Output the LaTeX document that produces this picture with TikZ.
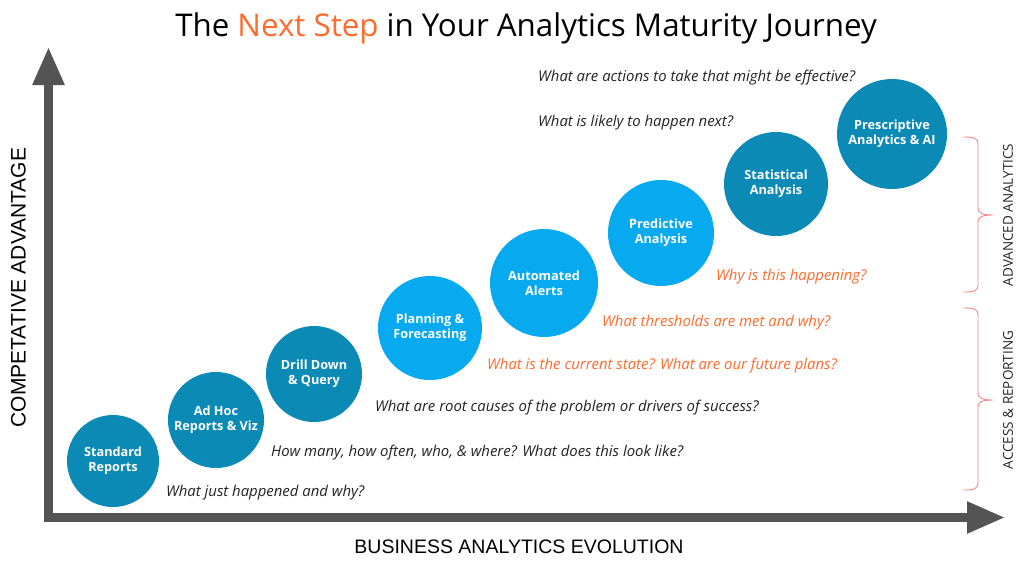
\documentclass[tikz,border=0pt]{standalone}
\usepackage{fontspec}
\setmainfont{Open Sans}
\newfontfamily\axisfont{Liberation Sans}
\usetikzlibrary{arrows.meta}
\definecolor{darkteal}{HTML}{0B8AB6}
\definecolor{lightblue}{HTML}{07A9EF}
\definecolor{orangeq}{HTML}{FF6B2C}
\definecolor{axisgray}{HTML}{545454}
\definecolor{bracecol}{HTML}{F28A87}
\definecolor{qtext}{HTML}{222222}
\tikzset{
  bubble/.style={circle, inner sep=0pt, text=white, align=center,
    font=\bfseries\fontsize{12.7}{15}\selectfont},
  darkb/.style={bubble, fill=darkteal},
  lightb/.style={bubble, fill=lightblue},
  question/.style={anchor=west, inner sep=0pt, text=qtext,
    font=\itshape\fontsize{14.9}{17}\selectfont},
  oquestion/.style={question, text=orangeq},
  axisarrow/.style={axisgray, line width=8.5pt,
    -{Triangle[length=38pt,width=30pt]}},
  bracepath/.style={bracecol, line width=0.9pt},
  sidelabel/.style={rotate=90, inner sep=0pt, text=black!85,
    font=\fontsize{13.5}{16}\selectfont},
  axislabel/.style={inner sep=0pt, text=black, font=\axisfont}
}
\begin{document}
\begin{tikzpicture}[x=1pt,y=-1pt]
\useasboundingbox (0,0) rectangle (1024,571);
\fill[white] (0,0) rectangle (1024,571);

% title
\node[inner sep=0pt] (title) at (526,28)
  {\fontsize{31.3}{36}\selectfont The \textcolor{orangeq}{Next Step} in Your Analytics Maturity Journey};

% axes
\coordinate (corner) at (48.5,521);
\coordinate (ytip) at (48.5,47);
\coordinate (xstart) at (44,517.5);
\coordinate (xtip) at (1005,517.5);
\draw[axisarrow] (corner) -- (ytip);
\draw[axisarrow] (xstart) -- (xtip);

\node[axislabel, rotate=90, font=\axisfont\fontsize{21}{24}\selectfont] (ylab) at (18.5,287.5) {COMPETATIVE ADVANTAGE};
\node[axislabel, font=\axisfont\fontsize{19.5}{22}\selectfont] (xlab) at (519,547) {BUSINESS ANALYTICS EVOLUTION};

% bubbles
\node[darkb, minimum size=92pt] (b1) at (113,461) {Standard\\Reports};
\node[darkb, minimum size=96pt] (b2) at (216,420) {Ad Hoc\\Reports \& Viz};
\node[darkb, minimum size=96pt] (b3) at (314,374) {Drill Down\\\& Query};
\node[lightb, minimum size=104pt] (b4) at (430,328) {Planning \&\\Forecasting};
\node[lightb, minimum size=108pt] (b5) at (544,283) {Automated\\Alerts};
\node[lightb, minimum size=106pt] (b6) at (661,233) {Predictive\\Analysis};
\node[darkb, minimum size=104pt] (b7) at (776,184) {Statistical\\Analysis};
\node[darkb, minimum size=110pt] (b8) at (892,134) {Prescriptive\\Analytics \& AI};

% questions
\node[question] (q1) at (166,493) {What just happened and why?};
\node[question] (q2) at (271,453) {How many, how often, who, \& where? What does this look like?};
\node[question] (q3) at (375,408) {What are root causes of the problem or drivers of success?};
\node[oquestion] (q4) at (487,366) {What is the current state? What are our future plans?};
\node[oquestion] (q5) at (602,323) {What thresholds are met and why?};
\node[oquestion] (q6) at (716,277) {Why is this happening?};
\node[question] (q7) at (538,123) {What is likely to happen next?};
\node[question] (q8) at (538,78) {What are actions to take that might be effective?};

% braces
\draw[bracepath] (963,137) .. controls (974,137) and (978,138) .. (978,144)
  -- (978,208) .. controls (978,213) and (982,215) .. (993,215)
  .. controls (982,215) and (978,217) .. (978,222)
  -- (978,285) .. controls (978,291) and (974,292) .. (963,292);
\draw[bracepath] (963,308) .. controls (974,308) and (978,309) .. (978,315)
  -- (978,393) .. controls (978,398) and (982,400) .. (993,400)
  .. controls (982,400) and (978,402) .. (978,407)
  -- (978,483) .. controls (978,489) and (974,490) .. (963,490);
\node[sidelabel] (adv) at (1008,215) {ADVANCED ANALYTICS};
\node[sidelabel] (acc) at (1008,400) {ACCESS \& REPORTING};
\end{tikzpicture}
\end{document}
